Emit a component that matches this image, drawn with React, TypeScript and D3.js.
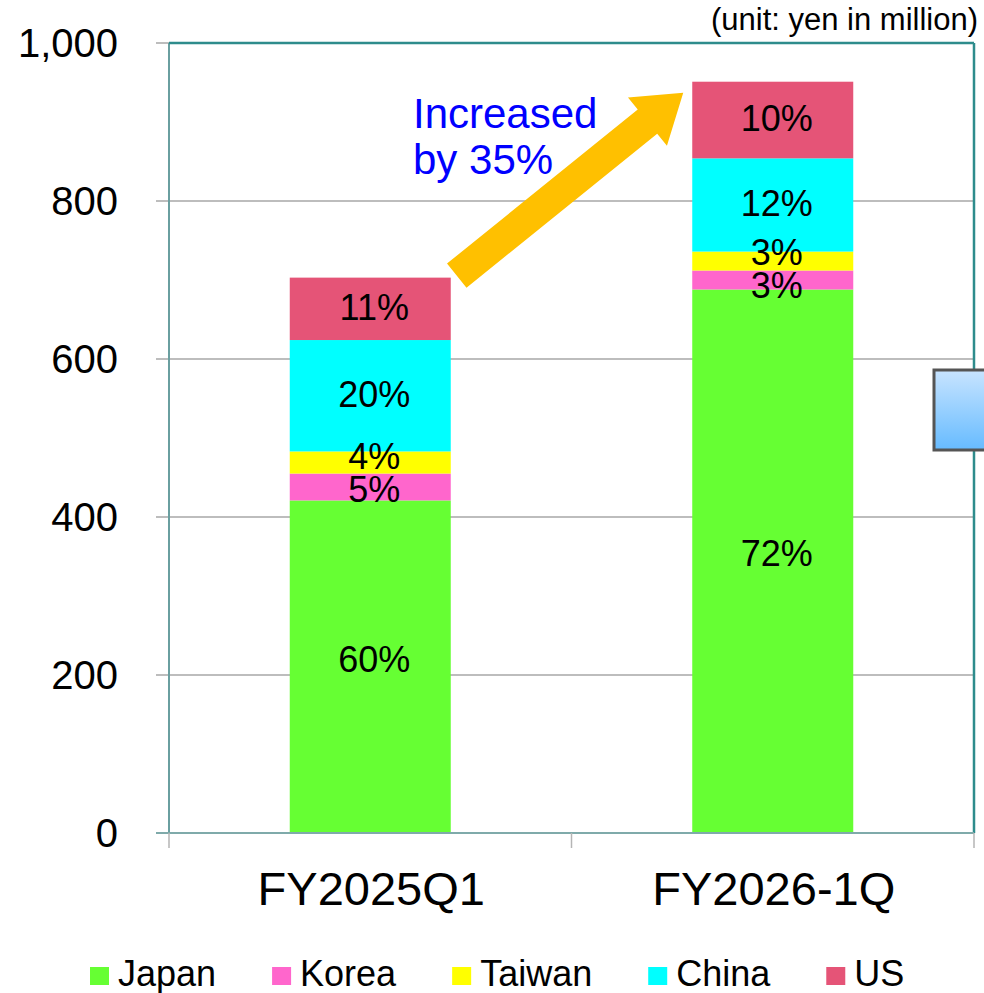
import React from "react";
import * as d3 from "d3";

const categories = ["FY2025Q1", "FY2026-1Q"];
const seriesNames = ["Japan", "Korea", "Taiwan", "China", "US"];
const japan = [421, 688];
const korea = [34, 24];
const taiwan = [28, 24];
const china = [141, 118];
const us = [79, 97];
const seriesColors = ["#66FF33", "#FF66CC", "#FFFF00", "#00FFFF", "#E55477"];
const yTicks = [0, 200, 400, 600, 800, 1000];
const unitText = "(unit: yen in million)";
const noteLines = ["Increased", "by 35%"];

const FONT = "'Liberation Sans', Arial, Helvetica, sans-serif";
const W = 984;
const H = 993;
const M = { left: 169, right: 974, top: 43, bottom: 833 };

function measure(text: string, font: string): number {
  const c = document.createElement("canvas");
  const ctx = c.getContext("2d");
  if (!ctx) return text.length * 18;
  ctx.font = font;
  return ctx.measureText(text).width;
}

export default function App() {
  const seriesValues = [japan, korea, taiwan, china, us];
  const rows = categories.map((c, i) => {
    const r: any = { cat: c };
    seriesNames.forEach((s, j) => (r[s] = seriesValues[j][i]));
    return r;
  });
  const stacked = d3.stack().keys(seriesNames)(rows);
  const totals = rows.map((r) => seriesNames.reduce((a, s) => a + r[s], 0));

  const y = d3.scaleLinear().domain([0, 1000]).range([M.bottom, M.top]);
  const x = d3
    .scaleBand()
    .domain(categories)
    .range([M.left, M.right])
    .paddingInner(0.6)
    .paddingOuter(0.3);
  const bw = x.bandwidth();
  const step = x.step();

  // labels with simple collision avoidance
  const labels: any[] = [];
  categories.forEach((c, i) => {
    const ls = stacked.map((layer, j) => {
      const d = layer[i];
      return {
        cx: (x(c) as number) + bw / 2 + 4,
        cy: (y(d[0]) + y(d[1])) / 2 - (j === 0 ? 8 : 2),
        text: Math.round((seriesValues[j][i] / totals[i]) * 100) + "%",
      };
    });
    const minGap = 33;
    for (let k = 1; k < ls.length; k++) {
      const a = ls[k - 1];
      const b = ls[k];
      const gap = a.cy - b.cy;
      if (gap < minGap) {
        const push = (minGap - gap) / 2;
        a.cy += push;
        b.cy -= push;
      }
    }
    labels.push(...ls);
  });

  // arrow from top of first bar to top of second bar
  const tail = [(x(categories[0]) as number) + bw + 6, y(totals[0]) - 2];
  const tip = [(x(categories[1]) as number) - 9, y(totals[1]) + 11];
  const dx = tip[0] - tail[0];
  const dy = tip[1] - tail[1];
  const len = Math.hypot(dx, dy);
  const u = [dx / len, dy / len];
  const n = [-u[1], u[0]];
  const sw = 15.5;
  const hw = 31;
  const hl = 46;
  const hb = [tip[0] - u[0] * hl, tip[1] - u[1] * hl];
  const pts = [
    [tail[0] + n[0] * sw, tail[1] + n[1] * sw],
    [hb[0] + n[0] * sw, hb[1] + n[1] * sw],
    [hb[0] + n[0] * hw, hb[1] + n[1] * hw],
    tip,
    [hb[0] - n[0] * hw, hb[1] - n[1] * hw],
    [hb[0] - n[0] * sw, hb[1] - n[1] * sw],
    [tail[0] - n[0] * sw, tail[1] - n[1] * sw],
  ];
  const arrowPath = d3.line()(pts as [number, number][]) + "Z";

  // legend layout
  const legendFont = `36px ${FONT}`;
  let lx = 90;
  const legendItems = seriesNames.map((s, i) => {
    const item = { name: s, color: seriesColors[i], x: lx };
    lx += 19 + 9 + measure(s, legendFont) + 56;
    return item;
  });

  return (
    <div style={{ position: "absolute", left: 0, top: 0 }}>
      <svg width={W} height={H} style={{ display: "block", background: "#fff" }}>
        <defs>
          <linearGradient id="boxGrad" x1="0" y1="0" x2="0" y2="1">
            <stop offset="0%" stopColor="#C8E4FF" />
            <stop offset="100%" stopColor="#66BBFF" />
          </linearGradient>
        </defs>
        {/* gridlines */}
        {yTicks.map((t) => (
          <line
            key={"g" + t}
            x1={M.left - 13}
            x2={M.right}
            y1={y(t)}
            y2={y(t)}
            stroke="#BDBDBD"
            strokeWidth={2}
          />
        ))}
        {/* bars */}
        {stacked.map((layer, j) =>
          layer.map((d, i) => (
            <rect
              key={j + "-" + i}
              x={x(categories[i]) as number}
              y={y(d[1])}
              width={bw}
              height={y(d[0]) - y(d[1])}
              fill={seriesColors[j]}
            />
          ))
        )}
        {/* value labels */}
        {labels.map((l, k) => (
          <text
            key={"l" + k}
            x={l.cx}
            y={l.cy + 13}
            textAnchor="middle"
            fontFamily={FONT}
            fontSize={36}
            fill="#000"
          >
            {l.text}
          </text>
        ))}
        {/* axes frame */}
        <line x1={M.left} x2={M.left} y1={M.top} y2={M.bottom} stroke="#6A9FA0" strokeWidth={2} />
        <line x1={M.left} x2={M.right} y1={M.top} y2={M.top} stroke="#2E8C8C" strokeWidth={2.5} />
        <line x1={M.right} x2={M.right} y1={M.top} y2={M.bottom} stroke="#2E8C8C" strokeWidth={2.5} />
        <line x1={M.left - 13} x2={M.right} y1={M.bottom} y2={M.bottom} stroke="#7FAAAA" strokeWidth={2} />
        {/* category ticks */}
        {[0, 1, 2].map((k) => (
          <line
            key={"ct" + k}
            x1={M.left + k * step}
            x2={M.left + k * step}
            y1={M.bottom}
            y2={M.bottom + 15}
            stroke="#B5B5B5"
            strokeWidth={1.5}
          />
        ))}
        {/* y tick labels */}
        {yTicks.map((t) => (
          <text
            key={"yt" + t}
            x={118}
            y={y(t) + 14}
            textAnchor="end"
            fontFamily={FONT}
            fontSize={40}
            fill="#000"
          >
            {d3.format(",")(t)}
          </text>
        ))}
        {/* category labels */}
        {categories.map((c) => (
          <text
            key={"c" + c}
            x={(x(c) as number) + bw / 2 + 1}
            y={905}
            textAnchor="middle"
            fontFamily={FONT}
            fontSize={47}
            fill="#000"
          >
            {c}
          </text>
        ))}
        {/* arrow */}
        <path d={arrowPath} fill="#FFC000" />
        {/* annotation text */}
        {noteLines.map((s, k) => (
          <text
            key={"n" + k}
            x={413}
            y={128 + k * 46}
            fontFamily={FONT}
            fontSize={42}
            fill="#0000FF"
          >
            {s}
          </text>
        ))}
        {/* unit */}
        <text x={978} y={30} textAnchor="end" fontFamily={FONT} fontSize={31} fill="#000">
          {unitText}
        </text>
        {/* partially visible box at right edge */}
        <rect x={934} y={370} width={70} height={80} fill="url(#boxGrad)" stroke="#555" strokeWidth={3} />
        {/* legend */}
        {legendItems.map((it) => (
          <g key={"lg" + it.name}>
            <rect x={it.x} y={967} width={19} height={18} fill={it.color} />
            <text x={it.x + 28} y={986} fontFamily={FONT} fontSize={36} fill="#000">
              {it.name}
            </text>
          </g>
        ))}
      </svg>
    </div>
  );
}
